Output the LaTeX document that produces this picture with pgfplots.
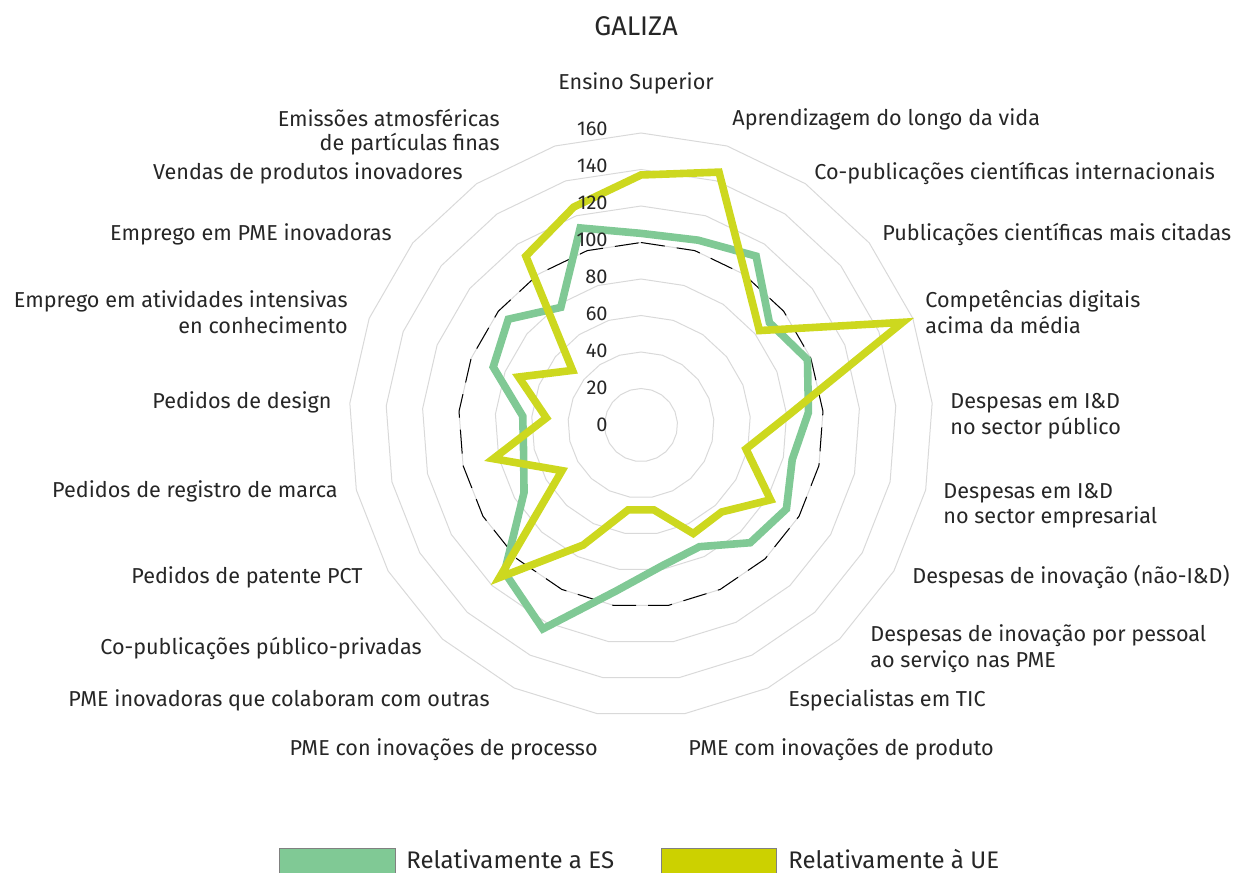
\documentclass[border=0pt]{standalone}
\usepackage{fontspec}
\setmainfont{Fira Sans}
\usepackage{pgfplots}
\usepackage{pgfplotstable}
\pgfplotsset{compat=1.18}
\definecolor{esgreen}{HTML}{80C995}
\definecolor{ueyellow}{HTML}{CDD81F}
\definecolor{ueswatch}{HTML}{CCD100}
\definecolor{gridgray}{HTML}{D9D9D9}
\definecolor{txt}{HTML}{262626}

% angle (clockwise from top, 21 categories), Galiza relative to ES and to EU
\pgfplotstableread{
ang       es   ue
90        105  137
72.857    106  145
55.714    112  101
38.571    90   83
21.429    98   154
4.286     92   82
-12.857   85   59
-30       92   82
-47.143   88   65
-64.286   74   66
-81.429   78   47
-98.571   92   47
-115.714  124  73
-132.857  110  114
-150      74   50
-167.143  66   83
-184.286  65   52
-201.429  87   72
-218.571  93   48
-235.714  78   112
-252.857  113  125
}\galiza

\begin{document}
\begin{tikzpicture}
\path[use as bounding box] (0,0) rectangle (616.5pt,-436.5pt);
\clip (0,0) rectangle (616.5pt,-436.5pt);

% polygon rings, 20 units = 18.25pt
\begin{scope}[shift={(320.5pt,-212.5pt)}]
\foreach \r in {1,...,8}{
  \draw[gridgray,line width=0.5pt] (90:\r*18.25pt)
    \foreach \k in {1,...,20}{ -- ({90-\k*360/21}:\r*18.25pt) } -- cycle;
}
\draw[black,line width=0.5pt,dash pattern=on 12pt off 6pt] (90:91.25pt)
    \foreach \k in {1,...,20}{ -- ({90-\k*360/21}:91.25pt) } -- cycle;
\end{scope}

\begin{axis}[at={(320.5pt,-212.5pt)},anchor=origin,
  x=0.9125pt,y=0.9125pt,
  xmin=-170,xmax=170,ymin=-170,ymax=170,
  hide axis,clip=false]
\addplot[esgreen,line width=3.8pt,line join=miter,data cs=polar]
  table[x=ang,y=es]{\galiza} -- cycle;
\addplot[ueyellow,line width=3.8pt,line join=miter,data cs=polar]
  table[x=ang,y=ue]{\galiza} -- cycle;
\end{axis}

\begin{scope}[x=0.5pt,y=-0.5pt,txt,inner sep=0pt,
  font=\fontsize{10.8pt}{12pt}\selectfont]
% radial tick labels
\foreach \v in {0,20,...,160}{
  \node[anchor=base east,font=\fontsize{10pt}{12pt}\selectfont] at (608,{425-\v*1.854+6.8}) {\v};
}
% title
\node[anchor=base,font=\fontsize{13.5pt}{15pt}\selectfont] at (636,35.5) {GALIZA};
% category labels
\node[anchor=base] at (636,89) {Ensino Superior};
\node[anchor=base west] at (732,125) {Aprendizagem do longo da vida};
\node[anchor=base west] at (814,179) {Co-publicações científicas internacionais};
\node[anchor=base west] at (882,240) {Publicações científicas mais citadas};
\node[anchor=base west] at (925,307) {Competências digitais};
\node[anchor=base west] at (925,333) {acima da média};
\node[anchor=base west] at (950,408) {Despesas em I\&D};
\node[anchor=base west] at (950,434) {no sector público};
\node[anchor=base west] at (943,498) {Despesas em I\&D};
\node[anchor=base west] at (943,523) {no sector empresarial};
\node[anchor=base east] at (1230,583) {Despesas de inovação (não-I\&D)};
\node[anchor=base west] at (870,641) {Despesas de inovação por pessoal};
\node[anchor=base west] at (870,667) {ao serviço nas PME};
\node[anchor=base west] at (788,706) {Especialistas em TIC};
\node[anchor=base west] at (688,755) {PME com inovações de produto};
\node[anchor=base east] at (598,755) {PME con inovações de processo};
\node[anchor=base east] at (490,706) {PME inovadoras que colaboram com outras};
\node[anchor=base east] at (422,654) {Co-publicações público-privadas};
\node[anchor=base east] at (363,583) {Pedidos de patente PCT};
\node[anchor=base east] at (338,497) {Pedidos de registro de marca};
\node[anchor=base east] at (332,408) {Pedidos de design};
\node[anchor=base east] at (348,307) {Emprego em atividades intensivas};
\node[anchor=base east] at (348,333) {en conhecimento};
\node[anchor=base east] at (392,240) {Emprego em PME inovadoras};
\node[anchor=base east] at (463,179) {Vendas de produtos inovadores};
\node[anchor=base east] at (500,126) {Emissões atmosféricas};
\node[anchor=base east] at (500,150) {de partículas finas};
% legend
\draw[draw=gray,line width=0.5pt,fill=esgreen] (279,848) rectangle (395,895);
\draw[draw=gray,line width=0.5pt,fill=ueswatch] (661,848) rectangle (776,895);
\node[anchor=base west,font=\fontsize{12pt}{14pt}\selectfont] at (406,868) {Relativamente a ES};
\node[anchor=base west,font=\fontsize{12pt}{14pt}\selectfont] at (788,868) {Relativamente à UE};
\end{scope}
\end{tikzpicture}
\end{document}
